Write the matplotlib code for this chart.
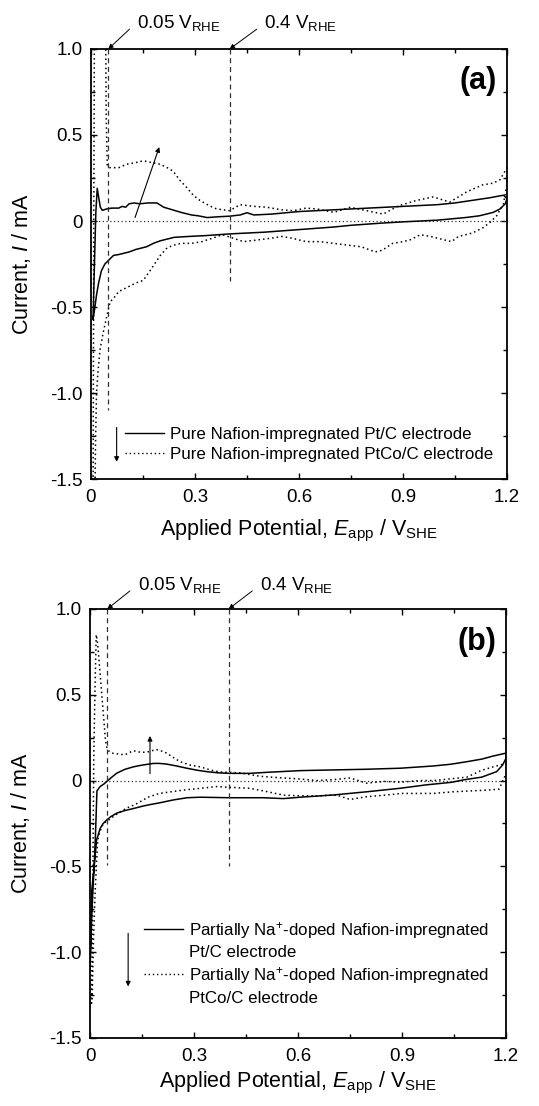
import numpy as np
import matplotlib
matplotlib.use("Agg")
import matplotlib.pyplot as plt
from matplotlib.lines import Line2D
from matplotlib.ticker import MultipleLocator, FuncFormatter

plt.rcParams['font.family'] = ['Liberation Sans', 'DejaVu Sans']
plt.rcParams['mathtext.fontset'] = 'custom'
plt.rcParams['mathtext.rm'] = 'Liberation Sans'
plt.rcParams['mathtext.it'] = 'Liberation Sans:italic'
plt.rcParams['mathtext.bf'] = 'Liberation Sans:bold'
plt.rcParams['axes.unicode_minus'] = False

# ---- panel (a): pure Nafion ----
# Pt/C (solid), anodic then cathodic sweep
E_pt_a = [0.006, 0.010, 0.014, 0.018, 0.022, 0.027, 0.033, 0.045, 0.06, 0.08, 0.09, 0.10, 0.11,
          0.125, 0.14, 0.165, 0.19, 0.21, 0.23, 0.26, 0.29, 0.31, 0.335, 0.37, 0.40, 0.43, 0.45,
          0.47, 0.52, 0.60, 0.70, 0.80, 0.90, 1.00, 1.05, 1.10, 1.15, 1.19, 1.20,
          1.195, 1.18, 1.16, 1.12, 1.08, 1.00, 0.90, 0.84, 0.75, 0.70, 0.60, 0.50, 0.40, 0.33,
          0.28, 0.24, 0.20, 0.18, 0.16, 0.13, 0.11, 0.08, 0.065, 0.05, 0.04, 0.03, 0.022, 0.016,
          0.010, 0.006]
I_pt_a = [-0.57, -0.25, 0.05, 0.19, 0.14, 0.08, 0.062, 0.07, 0.075, 0.075, 0.085, 0.08, 0.10,
          0.105, 0.10, 0.105, 0.105, 0.08, 0.068, 0.05, 0.035, 0.03, 0.02, 0.025, 0.028, 0.035, 0.048,
          0.035, 0.04, 0.055, 0.065, 0.075, 0.085, 0.095, 0.105, 0.12, 0.135, 0.15, 0.13,
          0.10, 0.07, 0.05, 0.03, 0.02, 0.005, -0.005, -0.012, -0.025, -0.035, -0.05, -0.065, -0.075, -0.085,
          -0.09, -0.095, -0.115, -0.13, -0.15, -0.165, -0.18, -0.195, -0.20, -0.23, -0.25, -0.29, -0.36, -0.43,
          -0.52, -0.57]

# PtCo/C (dotted)
E_co_a = [0.006, 0.008, 0.010, 0.03, 0.042, 0.044, 0.047, 0.055, 0.08, 0.103, 0.13, 0.151, 0.175,
          0.20, 0.22, 0.237, 0.255, 0.276, 0.295, 0.314, 0.34, 0.363, 0.40, 0.43, 0.47, 0.507, 0.55,
          0.584, 0.62, 0.652, 0.70, 0.748, 0.795, 0.843, 0.87, 0.89, 0.94, 0.987, 1.035, 1.06, 1.084,
          1.13, 1.16, 1.18, 1.20,
          1.20, 1.19, 1.17, 1.15, 1.13, 1.10, 1.06, 1.04, 1.00, 0.98, 0.95, 0.92, 0.90, 0.87, 0.84,
          0.82, 0.78, 0.74, 0.70, 0.66, 0.62, 0.58, 0.55, 0.52, 0.48, 0.44, 0.41, 0.38, 0.35, 0.32,
          0.29, 0.26, 0.24, 0.22, 0.20, 0.19, 0.17, 0.151, 0.13, 0.12, 0.10, 0.08, 0.065, 0.055,
          0.045, 0.035, 0.026, 0.020, 0.016, 0.013, 0.011]
I_co_a = [-1.7, 0.0, 1.2, 1.5, 1.2, 0.6, 0.32, 0.31, 0.31, 0.33, 0.34, 0.35, 0.34,
          0.33, 0.31, 0.29, 0.24, 0.195, 0.15, 0.12, 0.09, 0.07, 0.06, 0.095, 0.085, 0.08, 0.065,
          0.06, 0.075, 0.07, 0.05, 0.08, 0.06, 0.04, 0.07, 0.09, 0.12, 0.14, 0.11, 0.14, 0.17,
          0.21, 0.22, 0.24, 0.31,
          0.22, 0.10, 0.03, -0.01, -0.04, -0.07, -0.09, -0.12, -0.10, -0.09, -0.08, -0.11, -0.12, -0.13, -0.17,
          -0.18, -0.15, -0.14, -0.13, -0.12, -0.12, -0.10, -0.09, -0.10, -0.11, -0.12, -0.10, -0.08, -0.10, -0.12,
          -0.13, -0.13, -0.14, -0.155, -0.20, -0.23, -0.29, -0.345, -0.36, -0.37, -0.39, -0.41, -0.45, -0.47,
          -0.56, -0.65, -0.75, -0.88, -1.0, -1.3, -1.7]

# ---- panel (b): partially Na+-doped Nafion ----
E_pt_b = [0.0, 0.005, 0.012, 0.016, 0.020, 0.029, 0.04, 0.048, 0.06, 0.077, 0.10, 0.125, 0.15, 0.183,
          0.20, 0.221, 0.25, 0.279, 0.31, 0.337, 0.37, 0.404, 0.46, 0.51, 0.606, 0.702, 0.798, 0.895,
          0.99, 1.04, 1.087, 1.13, 1.163, 1.20,
          1.20, 1.19, 1.173, 1.15, 1.13, 1.08, 1.043, 0.97, 0.894, 0.80, 0.702, 0.606, 0.558, 0.50,
          0.404, 0.318, 0.28, 0.24, 0.20, 0.173, 0.15, 0.125, 0.10, 0.077, 0.06, 0.048, 0.038, 0.029,
          0.019, 0.012, 0.006, 0.0]
I_pt_b = [-1.1, -0.64, -0.5, -0.3, -0.06, -0.035, -0.02, -0.006, 0.015, 0.043, 0.065, 0.08, 0.09, 0.10,
          0.10, 0.096, 0.085, 0.072, 0.06, 0.052, 0.045, 0.042, 0.042, 0.048, 0.058, 0.062, 0.066, 0.072,
          0.085, 0.095, 0.11, 0.125, 0.143, 0.16,
          0.13, 0.09, 0.052, 0.035, 0.02, 0.005, -0.01, -0.025, -0.045, -0.065, -0.084, -0.097, -0.105, -0.10,
          -0.10, -0.097, -0.10, -0.113, -0.13, -0.14, -0.15, -0.163, -0.175, -0.19, -0.21, -0.23, -0.25, -0.28,
          -0.346, -0.5, -0.73, -1.1]

E_co_b = [0.004, 0.008, 0.011, 0.015, 0.018, 0.022, 0.03, 0.038, 0.044, 0.047, 0.055, 0.063, 0.08,
          0.10, 0.125, 0.145, 0.163, 0.18, 0.192, 0.21, 0.221, 0.24, 0.26, 0.29, 0.318, 0.35, 0.375,
          0.433, 0.49, 0.558, 0.60, 0.654, 0.70, 0.75, 0.798, 0.85, 0.894, 0.95, 0.99, 1.04, 1.087,
          1.13, 1.163, 1.20,
          1.20, 1.18, 1.15, 1.10, 1.05, 0.99, 0.90, 0.85, 0.798, 0.75, 0.72, 0.70, 0.65, 0.60, 0.558,
          0.50, 0.46, 0.41, 0.365, 0.32, 0.27, 0.20, 0.17, 0.153, 0.13, 0.106, 0.085, 0.067, 0.05,
          0.038, 0.028, 0.022, 0.015, 0.010, 0.006, 0.004]
I_co_b = [-1.3, -0.6, 0.16, 0.6, 0.85, 0.8, 0.6, 0.4, 0.25, 0.20, 0.17, 0.16, 0.155,
          0.15, 0.174, 0.165, 0.165, 0.175, 0.18, 0.17, 0.16, 0.135, 0.11, 0.09, 0.08, 0.06, 0.05,
          0.045, 0.025, 0.015, 0.01, 0.0, 0.005, 0.015, -0.015, -0.005, -0.01, 0.0, 0.0, 0.01, 0.02,
          0.06, 0.08, 0.10,
          0.04, -0.05, -0.055, -0.06, -0.065, -0.075, -0.075, -0.085, -0.094, -0.11, -0.09, -0.084, -0.09, -0.088, -0.085,
          -0.06, -0.045, -0.04, -0.035, -0.045, -0.055, -0.075, -0.095, -0.113, -0.14, -0.16, -0.185, -0.21, -0.235,
          -0.25, -0.30, -0.35, -0.64, -0.93, -1.28, -1.3]

labels_a = ["Pure Nafion-impregnated Pt/C electrode",
            "Pure Nafion-impregnated PtCo/C electrode"]
labels_b = ["Partially Na$^{+}$-doped Nafion-impregnated", "Pt/C electrode",
            "Partially Na$^{+}$-doped Nafion-impregnated", "PtCo/C electrode"]

dot = (0, (1, 2))
dash = (0, (4, 3))


def fmt(v, pos):
    if abs(v) < 1e-9:
        return "0"
    return "%.1f" % v


def style_axes(ax):
    ax.set_xlim(0, 1.2)
    ax.set_ylim(-1.5, 1.0)
    ax.xaxis.set_major_locator(MultipleLocator(0.3))
    ax.xaxis.set_minor_locator(MultipleLocator(0.15))
    ax.yaxis.set_major_locator(MultipleLocator(0.5))
    ax.yaxis.set_minor_locator(MultipleLocator(0.25))
    ax.xaxis.set_major_formatter(FuncFormatter(fmt))
    ax.yaxis.set_major_formatter(FuncFormatter(fmt))
    ax.tick_params(which='both', direction='in', top=True, right=True, width=1.0, labelsize=13.5)
    ax.tick_params(which='major', length=4.5)
    ax.tick_params(which='minor', length=2.8)
    ax.tick_params(axis='y', pad=6)
    ax.tick_params(axis='x', pad=7)
    for s in ax.spines.values():
        s.set_linewidth(1.3)
    ax.axhline(0, ls=dot, lw=0.9, color='0.2')
    ax.set_ylabel(r"Current, $\it{I}$ / mA", fontsize=15.5)
    ax.set_xlabel(r"Applied Potential, $\it{E}_{\rm app}$ / V$_{\rm SHE}$", fontsize=15.5)
    ax.yaxis.set_label_coords(-0.14, 0.5)


def marker_label(ax, x0, y_end, tx, label):
    ax.annotate("", xy=(x0, 1.0), xytext=(tx - 0.022, y_end - 0.005),
                arrowprops=dict(arrowstyle='-|>', lw=0.7, color='k', mutation_scale=7,
                                shrinkA=0, shrinkB=0),
                annotation_clip=False)
    ax.text(tx, y_end, label, fontsize=13.5, va='baseline', ha='left', clip_on=False)


fig = plt.figure(figsize=(5.39, 11.06), dpi=100)
ax1 = fig.add_axes([0.1688, 0.5669, 0.7718, 0.3888])
ax2 = fig.add_axes([0.1670, 0.0615, 0.7718, 0.3879])

# panel (a)
style_axes(ax1)
ax1.plot(E_pt_a, I_pt_a, color='k', lw=1.1)
ax1.plot(E_co_a, I_co_a, color='k', lw=1.1, ls=dot)
ax1.plot([0.05, 0.05], [1.0, -1.1], color='0.2', lw=0.9, ls=dash)
ax1.plot([0.40, 0.40], [1.0, -0.35], color='0.2', lw=0.9, ls=dash)
marker_label(ax1, 0.05, 1.12, 0.133, r"0.05 V$_{\rm RHE}$")
marker_label(ax1, 0.40, 1.12, 0.50, r"0.4 V$_{\rm RHE}$")
ax1.annotate("", xy=(0.197, 0.43), xytext=(0.127, 0.02),
             arrowprops=dict(arrowstyle='-|>', lw=0.8, color='k', mutation_scale=7, shrinkA=0, shrinkB=0))
ax1.annotate("", xy=(0.074, -1.40), xytext=(0.074, -1.20),
             arrowprops=dict(arrowstyle='-|>', lw=0.8, color='k', mutation_scale=7, shrinkA=0, shrinkB=0))
h_a = [Line2D([], [], color='k', lw=1.0), Line2D([], [], color='k', lw=1.0, ls=dot)]
ax1.legend(h_a, labels_a, loc='lower left', bbox_to_anchor=(0.082, 0.04), frameon=False,
           fontsize=12.2, handlelength=2.3, handletextpad=0.35, labelspacing=0.28,
           borderpad=0, borderaxespad=0)
ax1.text(0.976, 0.926, "(a)", transform=ax1.transAxes, ha='right', va='center',
         fontsize=22, fontweight='bold')
ax1.xaxis.set_label_coords(0.5, -0.09)

# panel (b)
style_axes(ax2)
ax2.plot(E_pt_b, I_pt_b, color='k', lw=1.1)
ax2.plot(E_co_b, I_co_b, color='k', lw=1.1, ls=dot)
ax2.plot([0.05, 0.05], [1.0, -0.49], color='0.2', lw=0.9, ls=dash)
ax2.plot([0.40, 0.40], [1.0, -0.50], color='0.2', lw=0.9, ls=dash)
marker_label(ax2, 0.05, 1.11, 0.137, r"0.05 V$_{\rm RHE}$")
marker_label(ax2, 0.40, 1.11, 0.49, r"0.4 V$_{\rm RHE}$")
ax2.annotate("", xy=(0.173, 0.26), xytext=(0.173, 0.04),
             arrowprops=dict(arrowstyle='-|>', lw=0.8, color='k', mutation_scale=7, shrinkA=0, shrinkB=0))
ax2.annotate("", xy=(0.11, -1.20), xytext=(0.11, -0.89),
             arrowprops=dict(arrowstyle='-|>', lw=0.8, color='k', mutation_scale=7, shrinkA=0, shrinkB=0))
h_b = [Line2D([], [], color='k', lw=1.0), Line2D([], [], color='none'),
       Line2D([], [], color='k', lw=1.0, ls=dot), Line2D([], [], color='none')]
ax2.legend(h_b, labels_b, loc='lower left', bbox_to_anchor=(0.13, 0.075), frameon=False,
           fontsize=12.2, handlelength=2.3, handletextpad=0.35, labelspacing=0.28,
           borderpad=0, borderaxespad=0)
ax2.text(0.978, 0.924, "(b)", transform=ax2.transAxes, ha='right', va='center',
         fontsize=22, fontweight='bold')
ax2.xaxis.set_label_coords(0.5, -0.075)

fig.savefig("out.png", dpi=100)
